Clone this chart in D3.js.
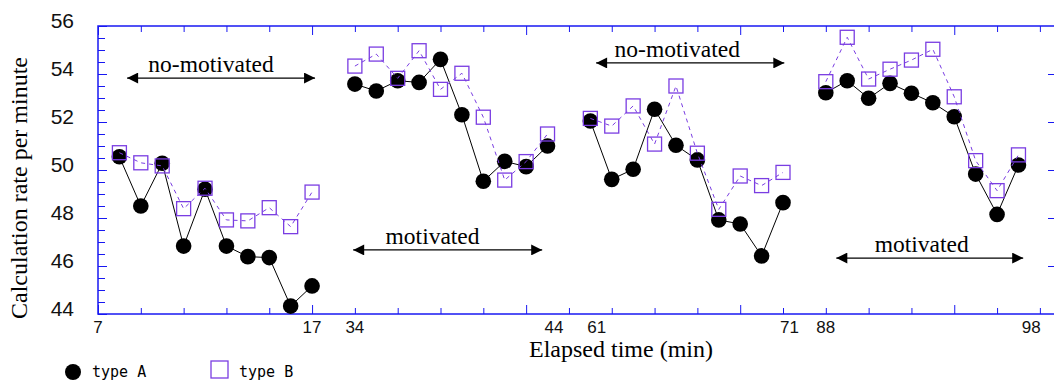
<!DOCTYPE html>
<html>
<head>
<meta charset="utf-8">
<script src="https://cdn.jsdelivr.net/npm/d3@7"></script>
<style>
  body { margin: 0; background: #fff; }
  svg { display: block; }
</style>
</head>
<body>
<div id="chart"></div>
<script>
// x positions are sample slots along the time axis; each block has 10 minutes
const segmentStarts = [1, 12, 23, 34];

const typeA = [
  [50.55, 48.5, 50.28, 46.83, 49.2, 46.83, 46.39, 46.35, 44.33, 45.17],
  [53.58, 53.29, 53.72, 53.65, 54.61, 52.3, 49.53, 50.36, 50.14, 51.0],
  [52.04, 49.61, 50.03, 52.53, 51.03, 50.42, 47.92, 47.75, 46.42, 48.64],
  [53.22, 53.72, 52.99, 53.61, 53.2, 52.8, 52.22, 49.83, 48.15, 50.21]
];
const typeB = [
  [50.72, 50.3, 50.17, 48.39, 49.24, 47.92, 47.88, 48.43, 47.64, 49.08],
  [54.33, 54.83, 53.82, 54.97, 53.36, 54.03, 52.2, 49.58, 50.35, 51.5],
  [52.15, 51.83, 52.67, 51.08, 53.5, 50.7, 48.36, 49.75, 49.35, 49.9],
  [53.68, 55.53, 53.79, 54.2, 54.58, 55.03, 53.05, 50.39, 49.14, 50.63]
];

const xTickLabelPos = [0, 10, 12, 21.3, 23.3, 32.3, 34, 43.6];
const xTickLabels = ['7', '17', '34', '44', '61', '71', '88', '98'];
const yTicks = [44, 46, 48, 50, 52, 54, 56];

const phaseLabels = ['no-motivated', 'motivated', 'no-motivated', 'motivated'];
const phaseArrowFrom = [1.36, 11.92, 23.27, 34.49];
const phaseArrowTo = [10.14, 20.75, 32.06, 43.22];
const phaseArrowY = [53.83, 46.67, 54.46, 46.33];
const phaseTextX = [5.28, 15.63, 27.06, 38.48];

const width = 1054, height = 383;
const plot = { left: 98, right: 1057, top: 26, bottom: 314 };
const frameColor = '#1818f2';
const purple = '#7a3de2';
const serif = '"Liberation Serif", "Times New Roman", serif';

const svg = d3.select('#chart').append('svg')
  .attr('width', width)
  .attr('height', height);

const x = d3.scaleLinear().domain([0, 44.8]).range([plot.left, plot.right]);
const y = d3.scaleLinear().domain([44, 56]).range([plot.bottom, plot.top]);

svg.append('defs').append('marker')
  .attr('id', 'head')
  .attr('viewBox', '0 0 10 10')
  .attr('refX', 10).attr('refY', 5)
  .attr('markerWidth', 14).attr('markerHeight', 11)
  .attr('markerUnits', 'userSpaceOnUse')
  .attr('orient', 'auto-start-reverse')
  .append('path')
  .attr('d', 'M0,0 L10,5 L0,10 Z')
  .attr('fill', '#000');

// frame
svg.append('rect')
  .attr('x', plot.left).attr('y', plot.top)
  .attr('width', plot.right - plot.left).attr('height', plot.bottom - plot.top)
  .attr('fill', 'none')
  .attr('stroke', frameColor)
  .attr('stroke-width', 1.5);

// x ticks, top and bottom, inward
const xTickVals = d3.range(0, 45, 2);
svg.append('g')
  .attr('transform', `translate(0,${plot.bottom})`)
  .call(d3.axisBottom(x).tickValues(xTickVals).tickSize(0).tickFormat(''))
  .call(g => g.select('.domain').remove())
  .call(g => g.selectAll('.tick line')
    .attr('y2', d => d % 10 === 0 ? -9 : -6)
    .attr('stroke', frameColor));
svg.append('g')
  .attr('transform', `translate(0,${plot.top})`)
  .call(d3.axisTop(x).tickValues(xTickVals).tickSize(0).tickFormat(''))
  .call(g => g.select('.domain').remove())
  .call(g => g.selectAll('.tick line')
    .attr('y2', d => d % 10 === 0 ? 9 : 6)
    .attr('stroke', frameColor));

// x tick labels (placed at the block boundaries)
svg.append('g').selectAll('text')
  .data(xTickLabels)
  .join('text')
  .attr('x', (d, i) => x(xTickLabelPos[i]))
  .attr('y', 333)
  .attr('text-anchor', 'middle')
  .style('font-family', '"Liberation Sans", Arial, sans-serif')
  .style('font-size', '17px')
  .attr('fill', '#111')
  .text(d => d);

// y axis left, minor every 0.5
const yMinor = d3.range(44, 56.01, 0.5);
svg.append('g')
  .attr('transform', `translate(${plot.left},0)`)
  .call(d3.axisRight(y).tickValues(yMinor).tickSize(0).tickFormat(''))
  .call(g => g.select('.domain').remove())
  .call(g => g.selectAll('.tick line')
    .attr('x2', d => d % 2 === 0 ? 9 : 7)
    .attr('stroke', frameColor));

svg.append('g')
  .attr('transform', `translate(${plot.right},0)`)
  .call(d3.axisLeft(y).tickValues([46, 48, 50, 52, 54]).tickSize(9).tickFormat(''))
  .call(g => g.select('.domain').remove())
  .call(g => g.selectAll('.tick line').attr('stroke', frameColor));

svg.append('g').selectAll('text')
  .data(yTicks)
  .join('text')
  .attr('x', 74)
  .attr('y', d => y(d) + 2)
  .attr('text-anchor', 'end')
  .style('font-family', '"Liberation Sans", Arial, sans-serif')
  .style('font-size', '21px')
  .attr('fill', '#111')
  .text(d => d);

// axis titles
svg.append('text')
  .attr('transform', 'translate(27,188) rotate(-90)')
  .attr('text-anchor', 'middle')
  .style('font-family', serif)
  .style('font-size', '24px')
  .text('Calculation rate per minute');

svg.append('text')
  .attr('x', 621).attr('y', 357)
  .attr('text-anchor', 'middle')
  .style('font-family', serif)
  .style('font-size', '24px')
  .text('Elapsed time (min)');

// phase annotations
phaseLabels.forEach((label, i) => {
  svg.append('line')
    .attr('x1', x(phaseArrowFrom[i])).attr('x2', x(phaseArrowTo[i]))
    .attr('y1', y(phaseArrowY[i])).attr('y2', y(phaseArrowY[i]))
    .attr('stroke', '#000').attr('stroke-width', 1.2)
    .attr('marker-start', 'url(#head)')
    .attr('marker-end', 'url(#head)');
  svg.append('text')
    .attr('x', x(phaseTextX[i]))
    .attr('y', y(phaseArrowY[i]) - 6)
    .attr('text-anchor', 'middle')
    .style('font-family', serif)
    .style('font-size', '23.5px')
    .text(label);
});

const line = d3.line()
  .x(d => x(d.i))
  .y(d => y(d.v));

const toPoints = (seg, k) => seg.map((v, j) => ({ i: segmentStarts[k] + j, v }));
const ptsA = typeA.map(toPoints);
const ptsB = typeB.map(toPoints);

// type A
svg.append('g').selectAll('path')
  .data(ptsA)
  .join('path')
  .attr('d', line)
  .attr('fill', 'none')
  .attr('stroke', '#000')
  .attr('stroke-width', 1);

svg.append('g').selectAll('circle')
  .data(ptsA.flat())
  .join('circle')
  .attr('cx', d => x(d.i))
  .attr('cy', d => y(d.v))
  .attr('r', 7.8)
  .attr('fill', '#000');

// type B
svg.append('g').selectAll('path')
  .data(ptsB)
  .join('path')
  .attr('d', line)
  .attr('fill', 'none')
  .attr('stroke', purple)
  .attr('stroke-width', 1)
  .attr('stroke-dasharray', '4,4');

const sq = 14;
svg.append('g').selectAll('rect')
  .data(ptsB.flat())
  .join('rect')
  .attr('x', d => x(d.i) - sq / 2)
  .attr('y', d => y(d.v) - sq / 2)
  .attr('width', sq).attr('height', sq)
  .attr('fill', 'none')
  .attr('stroke', purple)
  .attr('stroke-width', 1.3);

// legend
const legend = svg.append('g');
legend.append('circle')
  .attr('cx', 73).attr('cy', 372).attr('r', 8).attr('fill', '#000');
legend.append('text')
  .attr('x', 92).attr('y', 377)
  .style('font-family', '"DejaVu Sans Mono", monospace')
  .style('font-size', '15px')
  .text('type A');
legend.append('rect')
  .attr('x', 211).attr('y', 361).attr('width', 17).attr('height', 17)
  .attr('fill', 'none').attr('stroke', purple).attr('stroke-width', 1.3);
legend.append('text')
  .attr('x', 239).attr('y', 377)
  .style('font-family', '"DejaVu Sans Mono", monospace')
  .style('font-size', '15px')
  .text('type B');
</script>
</body>
</html>
